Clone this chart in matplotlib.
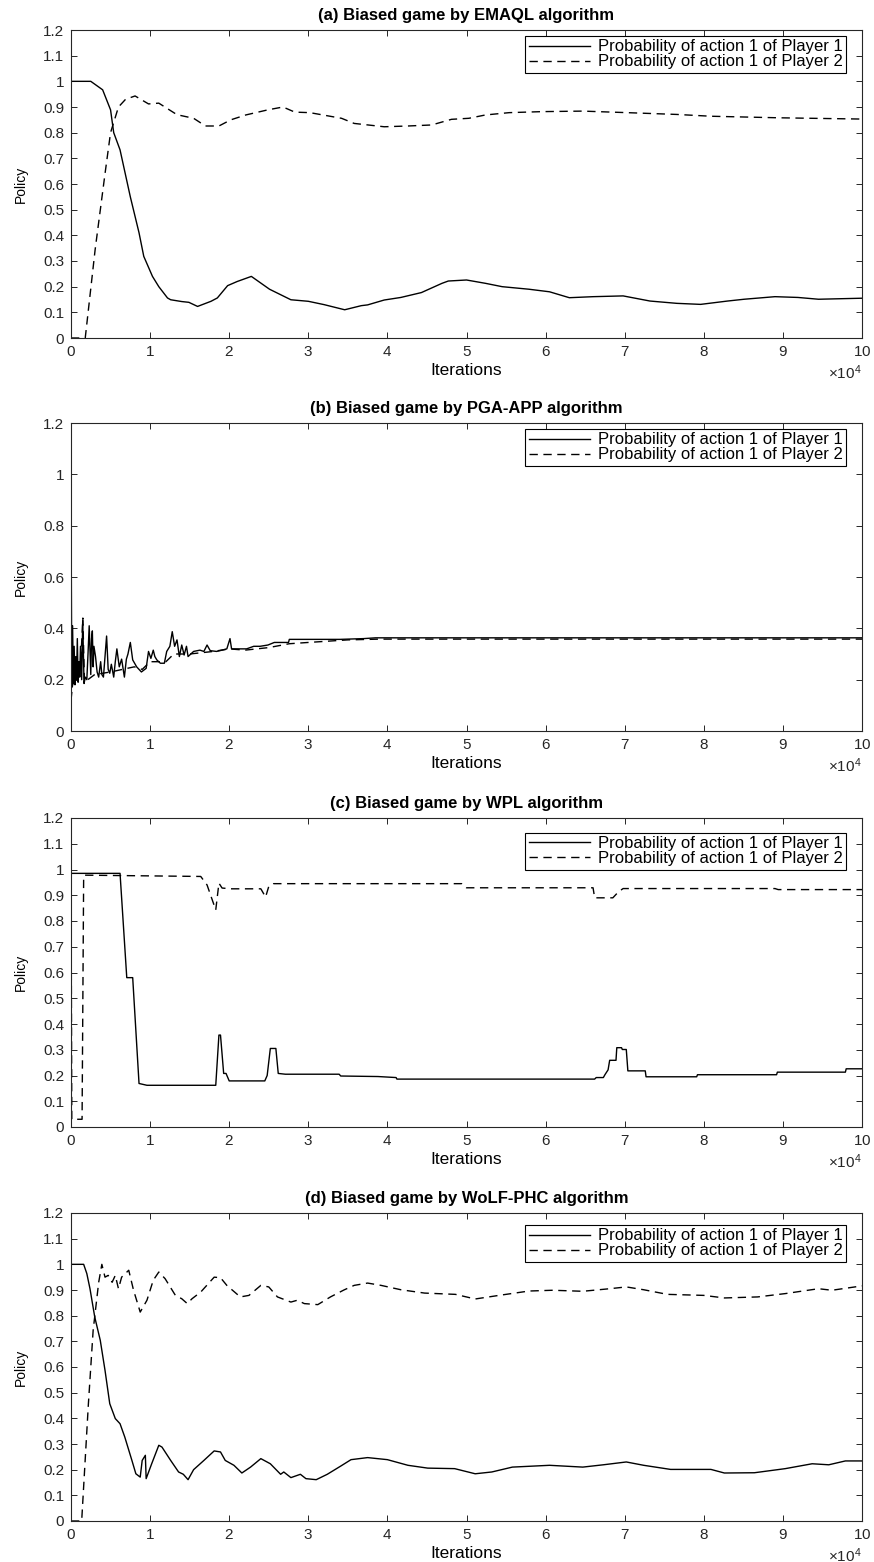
import numpy as np
import matplotlib
matplotlib.use("Agg")
import matplotlib.pyplot as plt
from matplotlib.ticker import ScalarFormatter, FuncFormatter, MultipleLocator

plt.rcParams['font.family'] = ['Liberation Sans', 'DejaVu Sans']
plt.rcParams['mathtext.fontset'] = 'custom'
plt.rcParams['mathtext.rm'] = 'Liberation Sans'

SCALE = 1e4  # x values below are in units of 10^4 iterations

TITLES = ["(a) Biased game by EMAQL algorithm",
          "(b) Biased game by PGA-APP algorithm",
          "(c) Biased game by WPL algorithm",
          "(d) Biased game by WoLF-PHC algorithm"]
LEGEND_LABELS = ["Probability of action 1 of Player 1",
                 "Probability of action 1 of Player 2"]

# ---------------- (a) EMAQL ----------------
a_p1_x = [0, 0.25, 0.40, 0.50, 0.54, 0.62, 0.75, 0.86, 0.92, 1.03, 1.11, 1.22, 1.26, 1.40, 1.49,
          1.60, 1.77, 1.85, 1.98, 2.10, 2.28, 2.51, 2.78, 3.00, 3.20, 3.46, 3.67, 3.75, 3.96, 4.17,
          4.43, 4.69, 4.77, 5.00, 5.24, 5.45, 5.79, 6.05, 6.30, 6.60, 6.98, 7.32, 7.66, 7.96, 8.30,
          8.51, 8.90, 9.19, 9.45, 10.0]
a_p1_y = [1.0, 1.0, 0.967, 0.889, 0.80, 0.733, 0.55, 0.41, 0.318, 0.24, 0.20, 0.156, 0.149, 0.142, 0.139,
          0.123, 0.143, 0.156, 0.204, 0.22, 0.24, 0.19, 0.149, 0.143, 0.13, 0.11, 0.126, 0.129, 0.148, 0.158,
          0.177, 0.213, 0.222, 0.226, 0.213, 0.20, 0.19, 0.18, 0.157, 0.161, 0.164, 0.144, 0.135, 0.131, 0.144,
          0.151, 0.161, 0.158, 0.151, 0.155]
a_p2_x = [0, 0.18, 0.305, 0.43, 0.50, 0.60, 0.69, 0.81, 0.98, 1.11, 1.34, 1.55, 1.70, 1.87, 2.02,
          2.21, 2.49, 2.68, 2.83, 3.02, 3.42, 3.58, 3.96, 4.26, 4.56, 4.81, 5.03, 5.24, 5.54, 5.96,
          6.47, 7.03, 7.66, 8.09, 8.94, 10.0]
a_p2_y = [0.0, 0.0, 0.344, 0.64, 0.80, 0.90, 0.93, 0.943, 0.912, 0.915, 0.87, 0.856, 0.826, 0.826, 0.85,
          0.869, 0.889, 0.90, 0.88, 0.878, 0.856, 0.836, 0.823, 0.826, 0.83, 0.852, 0.856, 0.869, 0.878, 0.882,
          0.884, 0.878, 0.871, 0.864, 0.858, 0.853]

# ---------------- (b) PGA-APP ----------------
b_p1_x = [0, 0.01, 0.02, 0.03, 0.04, 0.05, 0.06, 0.07, 0.08, 0.09, 0.10, 0.11, 0.12, 0.135, 0.148,
          0.165, 0.18, 0.20, 0.215, 0.23, 0.25, 0.26, 0.27, 0.28, 0.29, 0.31, 0.33, 0.35, 0.375, 0.39,
          0.41, 0.43, 0.45, 0.47, 0.49, 0.51, 0.54, 0.56, 0.58, 0.61, 0.64, 0.66, 0.675, 0.70, 0.72,
          0.75, 0.78, 0.83, 0.89, 0.95, 0.98, 1.01, 1.04, 1.06, 1.085, 1.13, 1.18, 1.21, 1.25, 1.28,
          1.31, 1.34, 1.37, 1.40, 1.43, 1.46, 1.48, 1.55, 1.63, 1.68, 1.72, 1.76, 1.84, 1.91, 1.97,
          2.01, 2.03, 2.12, 2.22, 2.31, 2.39, 2.49, 2.57, 2.75, 2.76, 3.40, 3.70, 3.85, 10.0]
b_p1_y = [0.90, 0.17, 0.41, 0.19, 0.33, 0.18, 0.29, 0.20, 0.36, 0.19, 0.27, 0.21, 0.33, 0.20, 0.43,
          0.185, 0.21, 0.20, 0.30, 0.41, 0.22, 0.36, 0.39, 0.25, 0.33, 0.29, 0.23, 0.21, 0.27, 0.22,
          0.21, 0.29, 0.37, 0.24, 0.225, 0.26, 0.21, 0.27, 0.32, 0.25, 0.28, 0.24, 0.21, 0.28, 0.30,
          0.345, 0.277, 0.25, 0.23, 0.244, 0.31, 0.283, 0.315, 0.29, 0.277, 0.264, 0.264, 0.31, 0.33, 0.387,
          0.33, 0.355, 0.29, 0.335, 0.296, 0.33, 0.29, 0.31, 0.315, 0.31, 0.335, 0.313, 0.31, 0.315, 0.32,
          0.36, 0.32, 0.32, 0.32, 0.33, 0.33, 0.335, 0.345, 0.345, 0.357, 0.357, 0.360, 0.363, 0.363]
b_p2_x = [0, 0.02, 0.08, 0.12, 0.15, 0.17, 0.30, 0.50, 0.80, 0.90, 1.00, 1.20, 1.30, 1.50, 1.80,
          2.00, 2.20, 2.50, 2.76, 3.00, 3.50, 3.90, 10.0]
b_p2_y = [0.12, 0.18, 0.21, 0.25, 0.44, 0.19, 0.22, 0.23, 0.25, 0.24, 0.27, 0.27, 0.30, 0.30, 0.31,
          0.32, 0.315, 0.325, 0.34, 0.345, 0.355, 0.358, 0.358]

# ---------------- (c) WPL ----------------
c_p1_x = [0, 0.62, 0.705, 0.78, 0.86, 0.96, 1.83, 1.87, 1.89, 1.93, 1.96, 2.00, 2.45, 2.48, 2.52,
          2.59, 2.62, 2.71, 3.39, 3.41, 3.88, 4.11, 4.12, 6.62, 6.64, 6.73, 6.75, 6.79, 6.81, 6.89,
          6.90, 6.96, 6.97, 7.02, 7.04, 7.26, 7.27, 7.91, 7.92, 8.92, 8.93, 9.79, 9.80, 10.0]
c_p1_y = [0.985, 0.985, 0.58, 0.58, 0.169, 0.162, 0.162, 0.357, 0.357, 0.208, 0.208, 0.179, 0.179, 0.20, 0.305,
          0.305, 0.208, 0.205, 0.205, 0.198, 0.196, 0.192, 0.186, 0.186, 0.192, 0.192, 0.203, 0.222, 0.259, 0.259,
          0.308, 0.308, 0.301, 0.301, 0.218, 0.218, 0.195, 0.195, 0.203, 0.203, 0.213, 0.213, 0.226, 0.226]
c_p2_x = [0, 0.01, 0.14, 0.16, 0.17, 1.64, 1.72, 1.83, 1.87, 1.91, 2.02, 2.40, 2.46, 2.50, 2.56,
          4.94, 5.00, 6.60, 6.62, 6.85, 6.92, 6.98, 8.90, 8.94, 10.0]
c_p2_y = [0.98, 0.03, 0.03, 0.975, 0.978, 0.973, 0.94, 0.843, 0.947, 0.928, 0.925, 0.925, 0.893, 0.934, 0.945,
          0.945, 0.929, 0.929, 0.89, 0.89, 0.913, 0.926, 0.926, 0.922, 0.922]

# ---------------- (d) WoLF-PHC ----------------
d_p1_x = [0, 0.16, 0.20, 0.24, 0.30, 0.37, 0.43, 0.49, 0.56, 0.62, 0.68, 0.77, 0.82, 0.875, 0.90,
          0.94, 0.95, 1.02, 1.11, 1.15, 1.26, 1.36, 1.42, 1.48, 1.55, 1.68, 1.81, 1.89, 1.95, 2.06,
          2.16, 2.27, 2.40, 2.52, 2.65, 2.69, 2.78, 2.90, 2.97, 3.10, 3.24, 3.41, 3.54, 3.75, 4.00,
          4.26, 4.51, 4.85, 5.11, 5.32, 5.58, 6.05, 6.47, 6.73, 7.02, 7.24, 7.58, 8.09, 8.26, 8.64,
          9.03, 9.37, 9.58, 9.79, 10.0]
d_p1_y = [1.0, 1.0, 0.964, 0.905, 0.795, 0.704, 0.587, 0.457, 0.399, 0.379, 0.327, 0.236, 0.184, 0.171, 0.236,
          0.256, 0.165, 0.223, 0.295, 0.288, 0.236, 0.191, 0.182, 0.161, 0.20, 0.236, 0.273, 0.269, 0.236, 0.217,
          0.187, 0.21, 0.243, 0.223, 0.182, 0.191, 0.169, 0.182, 0.165, 0.161, 0.182, 0.214, 0.239, 0.247, 0.239,
          0.217, 0.206, 0.204, 0.184, 0.191, 0.21, 0.217, 0.21, 0.219, 0.23, 0.217, 0.201, 0.201, 0.187, 0.188,
          0.204, 0.223, 0.219, 0.234, 0.234]
d_p2_x = [0, 0.135, 0.22, 0.28, 0.35, 0.39, 0.43, 0.47, 0.52, 0.56, 0.60, 0.64, 0.73, 0.79, 0.875,
          0.96, 1.04, 1.11, 1.19, 1.32, 1.40, 1.47, 1.53, 1.64, 1.81, 1.89, 1.97, 2.14, 2.25, 2.40,
          2.50, 2.61, 2.78, 2.86, 2.95, 3.12, 3.28, 3.45, 3.58, 3.75, 3.92, 4.17, 4.47, 4.86, 5.11,
          5.41, 5.79, 6.09, 6.47, 6.81, 7.02, 7.24, 7.54, 8.00, 8.26, 8.68, 9.03, 9.45, 9.62, 10.0]
d_p2_y = [0.0, 0.0, 0.457, 0.743, 0.93, 1.0, 0.95, 0.957, 0.93, 0.957, 0.905, 0.95, 0.977, 0.90, 0.814,
          0.86, 0.938, 0.97, 0.944, 0.879, 0.866, 0.847, 0.866, 0.892, 0.95, 0.948, 0.918, 0.873, 0.879, 0.918,
          0.912, 0.873, 0.853, 0.86, 0.847, 0.843, 0.873, 0.90, 0.918, 0.927, 0.918, 0.901, 0.888, 0.883, 0.865,
          0.879, 0.896, 0.899, 0.895, 0.905, 0.912, 0.901, 0.883, 0.879, 0.869, 0.873, 0.886, 0.905, 0.899, 0.916]

PANELS = [
    (a_p1_x, a_p1_y, a_p2_x, a_p2_y, 0.1),
    (b_p1_x, b_p1_y, b_p2_x, b_p2_y, 0.2),
    (c_p1_x, c_p1_y, c_p2_x, c_p2_y, 0.1),
    (d_p1_x, d_p1_y, d_p2_x, d_p2_y, 0.1),
]

W, H = 874, 1562
fig = plt.figure(figsize=(W / 100, H / 100), dpi=100)

# axes boxes in pixels: (top, bottom)
boxes = [(30, 338), (423, 731), (818, 1127), (1213, 1521)]
legend_offsets = [6, 6, 15, 12]
left_px, right_px = 71, 862

def yfmt(v, pos):
    return ('%.1f' % v).rstrip('0').rstrip('.') if abs(v) > 1e-9 else '0'

for i, ((x1, y1, x2, y2, ystep), (top, bot)) in enumerate(zip(PANELS, boxes)):
    ax = fig.add_axes([left_px / W, 1 - bot / H, (right_px - left_px) / W, (bot - top) / H])
    ax.plot(np.array(x1) * SCALE, y1, color='black', lw=1.0, label=LEGEND_LABELS[0])
    ax.plot(np.array(x2) * SCALE, y2, color='black', lw=1.0, dashes=(6, 4), label=LEGEND_LABELS[1])
    ax.set_xlim(0, 10 * SCALE)
    ax.set_ylim(0, 1.2)
    ax.xaxis.set_major_locator(MultipleLocator(SCALE))
    ax.yaxis.set_major_locator(MultipleLocator(ystep))
    ax.yaxis.set_major_formatter(FuncFormatter(yfmt))
    sf = ScalarFormatter(useMathText=True)
    sf.set_powerlimits((4, 4))
    ax.xaxis.set_major_formatter(sf)
    ax.xaxis.get_offset_text().set_fontsize(11)
    ax.tick_params(direction='in', top=True, right=True, length=4, width=0.7,
                   labelsize=11, pad=5, colors='#262626', labelcolor='#262626')
    for s in ax.spines.values():
        s.set_linewidth(0.8)
        s.set_color('#262626')
    ax.set_title(TITLES[i], fontsize=12, fontweight='bold', pad=7)
    ax.set_xlabel("Iterations", fontsize=12.5, labelpad=3)
    ax.set_ylabel("Policy", fontsize=10, labelpad=11)
    off = legend_offsets[i]
    leg = ax.legend(loc='upper right', fontsize=12, frameon=True, fancybox=False,
                    edgecolor='black', framealpha=1, handlelength=3.7, handletextpad=0.45,
                    borderpad=0.2, labelspacing=0.0,
                    bbox_to_anchor=(1 - 16 / (right_px - left_px), 1 - off / (bot - top)),
                    borderaxespad=0)
    leg.get_frame().set_linewidth(0.8)

fig.savefig("out.png", dpi=100)
